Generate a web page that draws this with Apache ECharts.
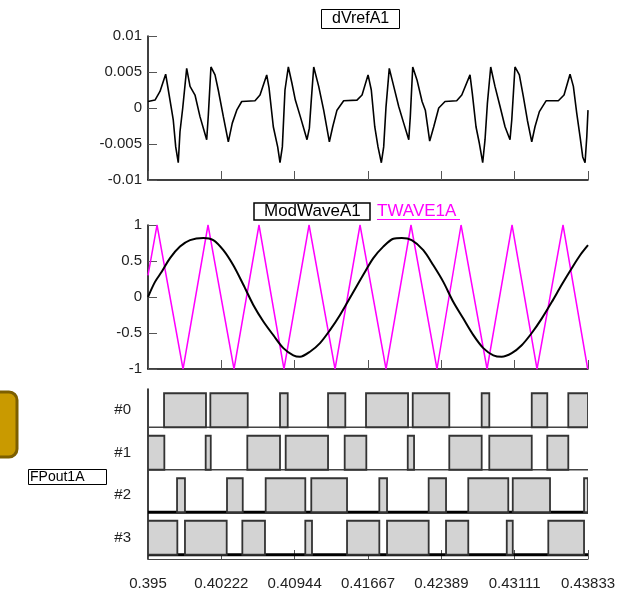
<!DOCTYPE html>
<html><head><meta charset="utf-8">
<script src="https://cdn.jsdelivr.net/npm/echarts@6/dist/echarts.min.js"></script>
<style>html,body{margin:0;padding:0;background:#fff}#c{width:636px;height:596px}</style>
</head><body><div id="c"></div>
<script>
// ---- data ----
const xTicks = [0.395, 0.40222, 0.40944, 0.41667, 0.42389, 0.43111, 0.43833];
const xMin = 0.395, xMax = 0.43833;

const dvT = [0.39500,0.39569,0.39618,0.39674,0.39700,0.39733,0.39749,0.39773,0.39798,0.39815,
 0.39842,0.39881,0.39914,0.39963,0.40012,0.40078,0.40094,0.40120,0.40160,0.40192,
 0.40242,0.40291,0.40330,0.40374,0.40423,0.40554,0.40603,0.40669,0.40692,0.40734,
 0.40777,0.40800,0.40823,0.40849,0.40882,0.40918,0.40951,0.41000,0.41066,0.41089,
 0.41108,0.41132,0.41181,0.41230,0.41286,0.41319,0.41361,0.41427,0.41558,0.41608,
 0.41667,0.41699,0.41733,0.41765,0.41798,0.41821,0.41844,0.41876,0.41920,0.41969,
 0.42018,0.42068,0.42083,0.42107,0.42149,0.42199,0.42231,0.42274,0.42314,0.42363,
 0.42425,0.42540,0.42590,0.42671,0.42694,0.42730,0.42763,0.42796,0.42819,0.42842,
 0.42875,0.42917,0.42967,0.43016,0.43065,0.43082,0.43114,0.43157,0.43196,0.43236,
 0.43279,0.43311,0.43354,0.43420,0.43541,0.43597,0.43656,0.43689,0.43722,0.43755,
 0.43781,0.43804,0.43821,0.43833];
const dvV = [0.0009,0.0011,0.0023,0.0047,0.0025,-0.0003,-0.0017,-0.0054,-0.0076,-0.0033,
 0,0.0055,0.003,0.0018,-0.0012,-0.0044,-0.001,0.0057,0.0046,0.0025,
 -0.0012,-0.0047,-0.0021,-0.0003,0.0009,0.001,0.0018,0.0046,0.0028,-0.0026,
 -0.0054,-0.0076,-0.0054,0.0025,0.0057,0.0034,0.0011,-0.0012,-0.0044,-0.0028,
 0.0011,0.0057,0.003,-0.0003,-0.0047,-0.0026,-0.0003,0.001,0.0011,0.0018,
 0.0046,0.0025,-0.0026,-0.0054,-0.0076,-0.0054,0.0002,0.0055,0.003,0.0002,
 -0.0021,-0.0044,-0.0012,0.0057,0.0039,0.0009,-0.0003,-0.0046,-0.0026,0,
 0.0009,0.001,0.0018,0.0046,0.002,-0.0026,-0.0049,-0.0076,-0.0044,0.0006,
 0.0057,0.003,0.0002,-0.0026,-0.0044,-0.0017,0.0057,0.0046,0.0016,-0.0017,
 -0.0047,-0.0026,-0.0005,0.001,0.001,0.0018,0.0047,0.003,-0.0007,-0.004,
 -0.0068,-0.0076,-0.004,-0.0003];

const modT = [0.39500,0.39569,0.39635,0.39717,0.39815,0.39914,0.40045,0.40143,0.40242,0.40340,
 0.40439,0.40537,0.40636,0.40734,0.40833,0.40931,0.40997,0.41095,0.41194,0.41292,
 0.41391,0.41522,0.41620,0.41719,0.41817,0.41916,0.41999,0.42097,0.42211,0.42310,
 0.42408,0.42507,0.42605,0.42704,0.42802,0.42901,0.42983,0.43082,0.43180,0.43279,
 0.43377,0.43476,0.43574,0.43673,0.43755,0.43833];
const modV = [0,0.21,0.35,0.54,0.70,0.79,0.82,0.79,0.65,0.44,
 0.17,-0.11,-0.34,-0.53,-0.71,-0.81,-0.83,-0.76,-0.64,-0.46,
 -0.25,0.07,0.31,0.54,0.70,0.81,0.82,0.79,0.65,0.44,
 0.21,-0.07,-0.30,-0.53,-0.71,-0.81,-0.83,-0.78,-0.67,-0.50,
 -0.30,-0.07,0.17,0.40,0.58,0.72];

const triT = [0.39500,0.39589,0.39845,0.40091,0.40347,0.40593,0.40839,0.41086,0.41342,0.41588,
 0.41844,0.42090,0.42346,0.42583,0.42839,0.43085,0.43331,0.43587,0.43830];
const triV = [0.3,1,-1,1,-1,1,-1,1,-1,1,-1,1,-1,1,-1,1,-1,1,-1];

const rowNames = ['#0','#1','#2','#3'];
const pwm0 = [[0.39658,0.40071],[0.40114,0.40482],[0.40800,0.40876],[0.41273,0.41443],[0.41647,0.42061],
 [0.42107,0.42467],[0.42786,0.42861],[0.43279,0.43432],[0.43639,0.43833]];
const pwm1 = [[0.39500,0.39661],[0.40068,0.40118],[0.40478,0.40800],[0.40856,0.41273],[0.41437,0.41650],
 [0.42058,0.42120],[0.42467,0.42786],[0.42861,0.43279],[0.43432,0.43639]];
const pwm2 = [[0.39786,0.39864],[0.40278,0.40433],[0.40659,0.41049],[0.41108,0.41460],[0.41778,0.41854],
 [0.42264,0.42435],[0.42654,0.43048],[0.43092,0.43459],[0.43794,0.43833]];
const pwm3 = [[0.39500,0.39789],[0.39864,0.40275],[0.40429,0.40652],[0.41049,0.41115],[0.41460,0.41778],
 [0.41854,0.42264],[0.42435,0.42654],[0.43033,0.43092],[0.43442,0.43794]];

// ---- build ----
const FONT = 'Liberation Sans';
const LBL = 15;
const zip = (a, b) => a.map((v, i) => [v, b[i]]);
const pwmRows = [pwm0, pwm1, pwm2, pwm3];
const pulseData = [];
pwmRows.forEach((row, r) => row.forEach(p => pulseData.push([p[0], p[1], rowNames[r]])));
const baseData = rowNames.map(n => [xMin, xMax, n]);
const baseStyle = {'#0': [1.5, '#444'], '#1': [1.5, '#444'], '#2': [3, '#000'], '#3': [3, '#000']};

function xAxisDef(idx, withLabels) {
  return {
    type: 'value', gridIndex: idx, min: xMin, max: xMax,
    axisLine: {show: true, onZero: false, lineStyle: {color: idx === 2 ? '#444' : '#000', width: idx === 2 ? 1 : 1.5}},
    axisTick: {show: true, inside: true, length: 9, customValues: xTicks, lineStyle: {color: '#555', width: 1}},
    axisLabel: withLabels ? {show: true, customValues: xTicks, margin: 17, fontSize: LBL, fontFamily: FONT, color: '#222',
      formatter: v => String(v)} : {show: false},
    splitLine: {show: false}
  };
}
function yAxisDef(idx, min, max, interval) {
  return {
    type: 'value', gridIndex: idx, min, max, interval,
    axisLine: {show: true, onZero: false, lineStyle: {color: '#000', width: 1.5}},
    axisTick: {show: true, inside: true, length: 9, lineStyle: {color: '#555', width: 1}},
    axisLabel: {margin: 6, fontSize: LBL, fontFamily: FONT, color: '#222'},
    splitLine: {show: false}
  };
}

const chart = echarts.init(document.getElementById('c'), null, {renderer: 'canvas'});
chart.setOption({
  animation: false,
  backgroundColor: '#fff',
  title: [
    {text: 'dVrefA1', left: 321, top: 9, padding: [2, 11], borderColor: '#000', borderWidth: 1,
      textStyle: {fontSize: 16, fontWeight: 'normal', color: '#000', fontFamily: FONT}},
    {text: 'ModWaveA1', left: 254, top: 203, padding: [0, 10], borderColor: '#000', borderWidth: 1.5,
      textStyle: {fontSize: 17, fontWeight: 'normal', color: '#000', fontFamily: FONT}},
    {text: 'TWAVE1A', left: 377, top: 203, padding: [0, 0],
      textStyle: {fontSize: 17, fontWeight: 'normal', color: '#ff00ff', fontFamily: FONT}},
    {text: 'FPout1A', left: 28, top: 469, padding: [1, 22, 1, 2], borderColor: '#000', borderWidth: 1,
      textStyle: {fontSize: 14, fontWeight: 'normal', color: '#000', fontFamily: FONT}}
  ],
  graphic: [
    {type: 'rect', shape: {x: -20, y: 392, width: 37, height: 65, r: 8},
      style: {fill: '#c99a00', stroke: '#7d5f00', lineWidth: 3}},
    {type: 'line', shape: {x1: 377, y1: 219.5, x2: 460, y2: 219.5}, style: {stroke: '#ff00ff', lineWidth: 1}}
  ],
  grid: [
    {left: 148, right: 48, top: 36, height: 144},
    {left: 148, right: 48, top: 225, height: 144},
    {left: 148, right: 48, top: 389, height: 170}
  ],
  xAxis: [xAxisDef(0, false), xAxisDef(1, false), xAxisDef(2, true)],
  yAxis: [
    yAxisDef(0, -0.01, 0.01, 0.005),
    yAxisDef(1, -1, 1, 0.5),
    {type: 'category', gridIndex: 2, data: ['#3', '#2', '#1', '#0'],
      axisLine: {show: true, onZero: false, lineStyle: {color: '#000', width: 1.5}},
      axisTick: {show: false},
      axisLabel: {margin: 17, fontSize: LBL, fontFamily: FONT, color: '#222'},
      splitLine: {show: false}}
  ],
  series: [
    {name: 'dVrefA1', type: 'line', xAxisIndex: 0, yAxisIndex: 0, data: zip(dvT, dvV),
      showSymbol: false, lineStyle: {color: '#000', width: 1.6}},
    {name: 'TWAVE1A', type: 'line', xAxisIndex: 1, yAxisIndex: 1, data: zip(triT, triV),
      showSymbol: false, lineStyle: {color: '#ff00ff', width: 1.5}},
    {name: 'ModWaveA1', type: 'line', xAxisIndex: 1, yAxisIndex: 1, data: zip(modT, modV),
      showSymbol: false, smooth: 0.3, lineStyle: {color: '#000', width: 2}},
    {name: 'baselines', type: 'custom', xAxisIndex: 2, yAxisIndex: 2, data: baseData,
      encode: {x: [0, 1], y: 2},
      renderItem: (params, api) => {
        const a = api.coord([api.value(0), api.value(2)]);
        const b = api.coord([api.value(1), api.value(2)]);
        const h = api.size([0, 1])[1] * 0.8;
        const st = baseStyle[rowNames[3 - api.value(2)]];
        return {type: 'line', shape: {x1: a[0], y1: a[1] + h / 2, x2: b[0], y2: a[1] + h / 2},
          style: {stroke: st[1], lineWidth: st[0]}};
      }},
    {name: 'FPout1A', type: 'custom', xAxisIndex: 2, yAxisIndex: 2, data: pulseData,
      encode: {x: [0, 1], y: 2}, clip: true,
      renderItem: (params, api) => {
        const a = api.coord([api.value(0), api.value(2)]);
        const b = api.coord([api.value(1), api.value(2)]);
        const h = api.size([0, 1])[1] * 0.8;
        return {type: 'rect', shape: {x: a[0], y: a[1] - h / 2, width: b[0] - a[0], height: h},
          style: {fill: '#d3d3d3', stroke: '#333', lineWidth: 1.8}};
      }}
  ]
});
</script></body></html>
